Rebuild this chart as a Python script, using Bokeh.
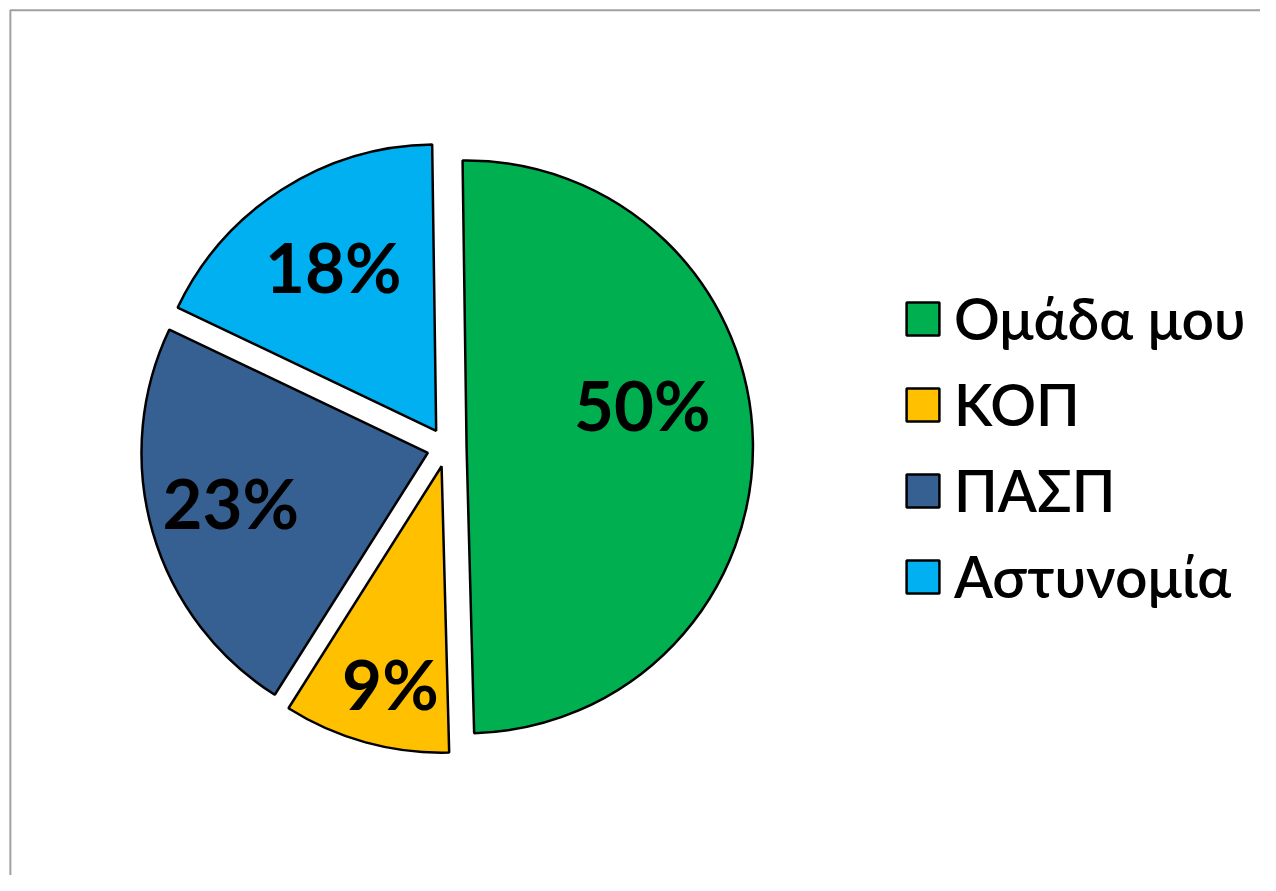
import numpy as np
from bokeh.plotting import figure
from bokeh.models import Range1d, BoxAnnotation, Legend, LegendItem, ColumnDataSource
from bokeh.core.properties import value
from bokeh.embed import file_html
from bokeh.resources import INLINE

# ---- data ----
categories = ["Ομάδα μου", "ΚΟΠ", "ΠΑΣΠ", "Αστυνομία"]
shares = [49.8, 9.4, 23.1, 17.7]
pct_labels = ["50%", "9%", "23%", "18%"]

# ---- style ----
colors = ["#00b050", "#ffc000", "#376092", "#00b0f0"]
W, H = 1260, 875           # figure size in px
XW, YH = 1276, 891         # data extent (reference canvas units)
cx, cy = 452, YH - 455     # pie centre
R = 290                    # radius
explode = 20               # explosion distance
rot0 = -0.8                # first slice start, degrees clockwise from 12 o'clock
lab_ang = [76.4, 193.2, 255.7, 328.1]   # label angle (clockwise from top)
lab_rad = [183, 227, 206, 197]          # label distance from slice vertex

vals = np.array(shares, dtype=float)
deg = vals / vals.sum() * 360.0
th_start = rot0 + np.concatenate([[0], np.cumsum(deg)[:-1]])
th_end = th_start + deg
th_mid = (th_start + th_end) / 2.0

vx = cx + explode * np.sin(np.radians(th_mid))
vy = cy + explode * np.cos(np.radians(th_mid))

src = ColumnDataSource(dict(
    x=vx, y=vy,
    start=np.radians(90 - th_start),
    end=np.radians(90 - th_end),
    color=colors, cat=categories,
))

lx = vx + np.array(lab_rad) * np.sin(np.radians(lab_ang))
ly = vy + np.array(lab_rad) * np.cos(np.radians(lab_ang))
lsrc = ColumnDataSource(dict(x=lx, y=ly, t=pct_labels))

p = figure(width=W, height=H, output_backend="svg", toolbar_location=None,
           x_range=Range1d(0, XW), y_range=Range1d(0, YH),
           min_border=0, outline_line_color=None)
p.axis.visible = False
p.grid.visible = False
p.background_fill_color = "white"

# chart-area border (only left / top edges fall inside the canvas)
p.add_layout(BoxAnnotation(left=10, right=XW + 400, top=YH - 10, bottom=-400,
                           fill_alpha=0, line_color="#a0a0a0", line_alpha=1.0,
                           line_width=2, level="underlay"))

r = p.wedge(x="x", y="y", radius=R, start_angle="start", end_angle="end",
            direction="clock", fill_color="color", line_color="black",
            line_width=2.5, source=src)

p.text(x="x", y="y", text="t", source=lsrc, text_align="center",
       text_baseline="middle", text_font=value("Lato"),
       text_font_style="bold", text_font_size="69px", text_color="black")

items = [LegendItem(label=c, renderers=[r], index=i) for i, c in enumerate(categories)]
legend = Legend(items=items, location=(902, 256), orientation="vertical",
                glyph_width=41, glyph_height=41, label_standoff=11,
                label_height=86, spacing=0, padding=0, margin=0,
                border_line_color=None, background_fill_alpha=0,
                label_text_font="Lato Semibold", label_text_font_size="57px",
                label_text_color="black", label_text_baseline="middle")
p.add_layout(legend, "center")

open("out.html", "w").write(file_html(p, INLINE))
